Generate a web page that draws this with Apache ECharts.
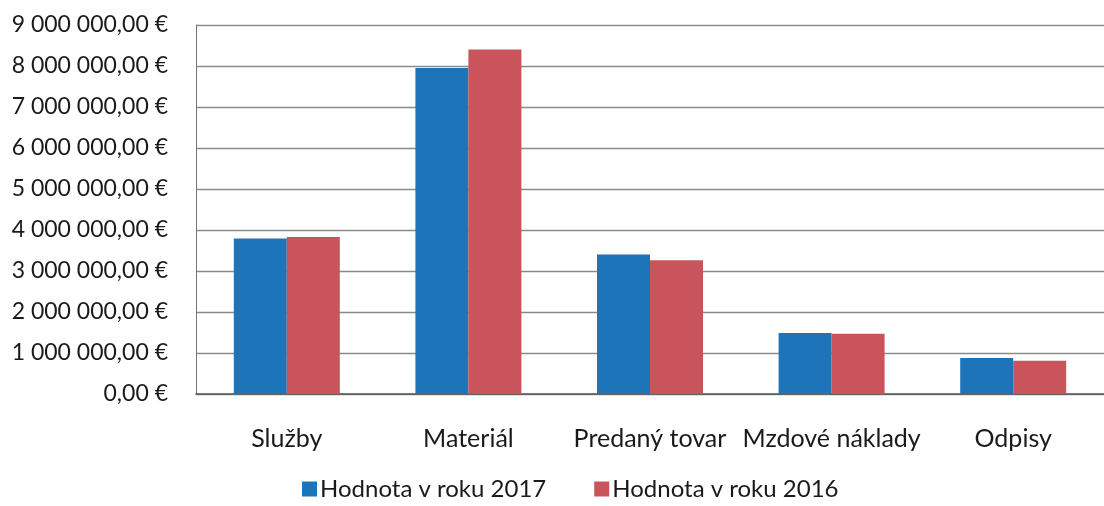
<!DOCTYPE html>
<html>
<head>
<meta charset="utf-8">
<script src="https://cdn.jsdelivr.net/npm/echarts@6/dist/echarts.min.js"></script>
<style>
  html, body { margin: 0; padding: 0; background: #fff; }
  #chart { width: 1104px; height: 506px; }
</style>
</head>
<body>
<div id="chart"></div>
<script>
const categories = ["Služby", "Materiál", "Predaný tovar", "Mzdové náklady", "Odpisy"];
const values2017 = [3790000, 7950000, 3400000, 1490000, 880000];
const values2016 = [3830000, 8400000, 3260000, 1470000, 810000];
const seriesNames = ["Hodnota v roku 2017", "Hodnota v roku 2016"];

// "9 000 000,00 €"
function euro(v) {
  const parts = Math.round(v).toString().replace(/\B(?=(\d{3})+(?!\d))/g, " ");
  return parts + ",00 €";
}

var myChart = echarts.init(document.getElementById("chart"));
var option = {
  animation: false,
  textStyle: { fontFamily: "Lato" },
  legend: {
    data: seriesNames,
    left: 297,
    bottom: 0,
    itemWidth: 15,
    itemHeight: 15,
    itemGap: 48,
    icon: "rect",
    textStyle: { fontSize: 24, color: "#1a1a1a", fontFamily: "Lato", padding: [0, 0, 0, -2] }
  },
  grid: {
    left: 196,
    width: 920,
    top: 25,
    bottom: 112
  },
  xAxis: {
    type: "category",
    data: categories,
    axisLine: { lineStyle: { color: "#555", width: 1.5 } },
    axisTick: { show: false },
    axisLabel: { interval: 0, fontSize: 25, color: "#1a1a1a", margin: 32 }
  },
  yAxis: {
    type: "value",
    min: 0,
    max: 9000000,
    interval: 1000000,
    axisLine: { show: true, lineStyle: { color: "#777" } },
    axisTick: { show: false },
    splitLine: { lineStyle: { color: "#8a8a8a", width: 1.3 } },
    axisLabel: {
      fontSize: 23,
      color: "#1a1a1a",
      margin: 28,
      formatter: euro
    }
  },
  series: [
    {
      name: seriesNames[0],
      type: "bar",
      data: values2017,
      barWidth: 53,
      barGap: "0%",
      itemStyle: { color: "#1d74b8" }
    },
    {
      name: seriesNames[1],
      type: "bar",
      data: values2016,
      barWidth: 53,
      barGap: "0%",
      itemStyle: { color: "#c9545b" }
    }
  ]
};
myChart.setOption(option);
</script>
</body>
</html>
